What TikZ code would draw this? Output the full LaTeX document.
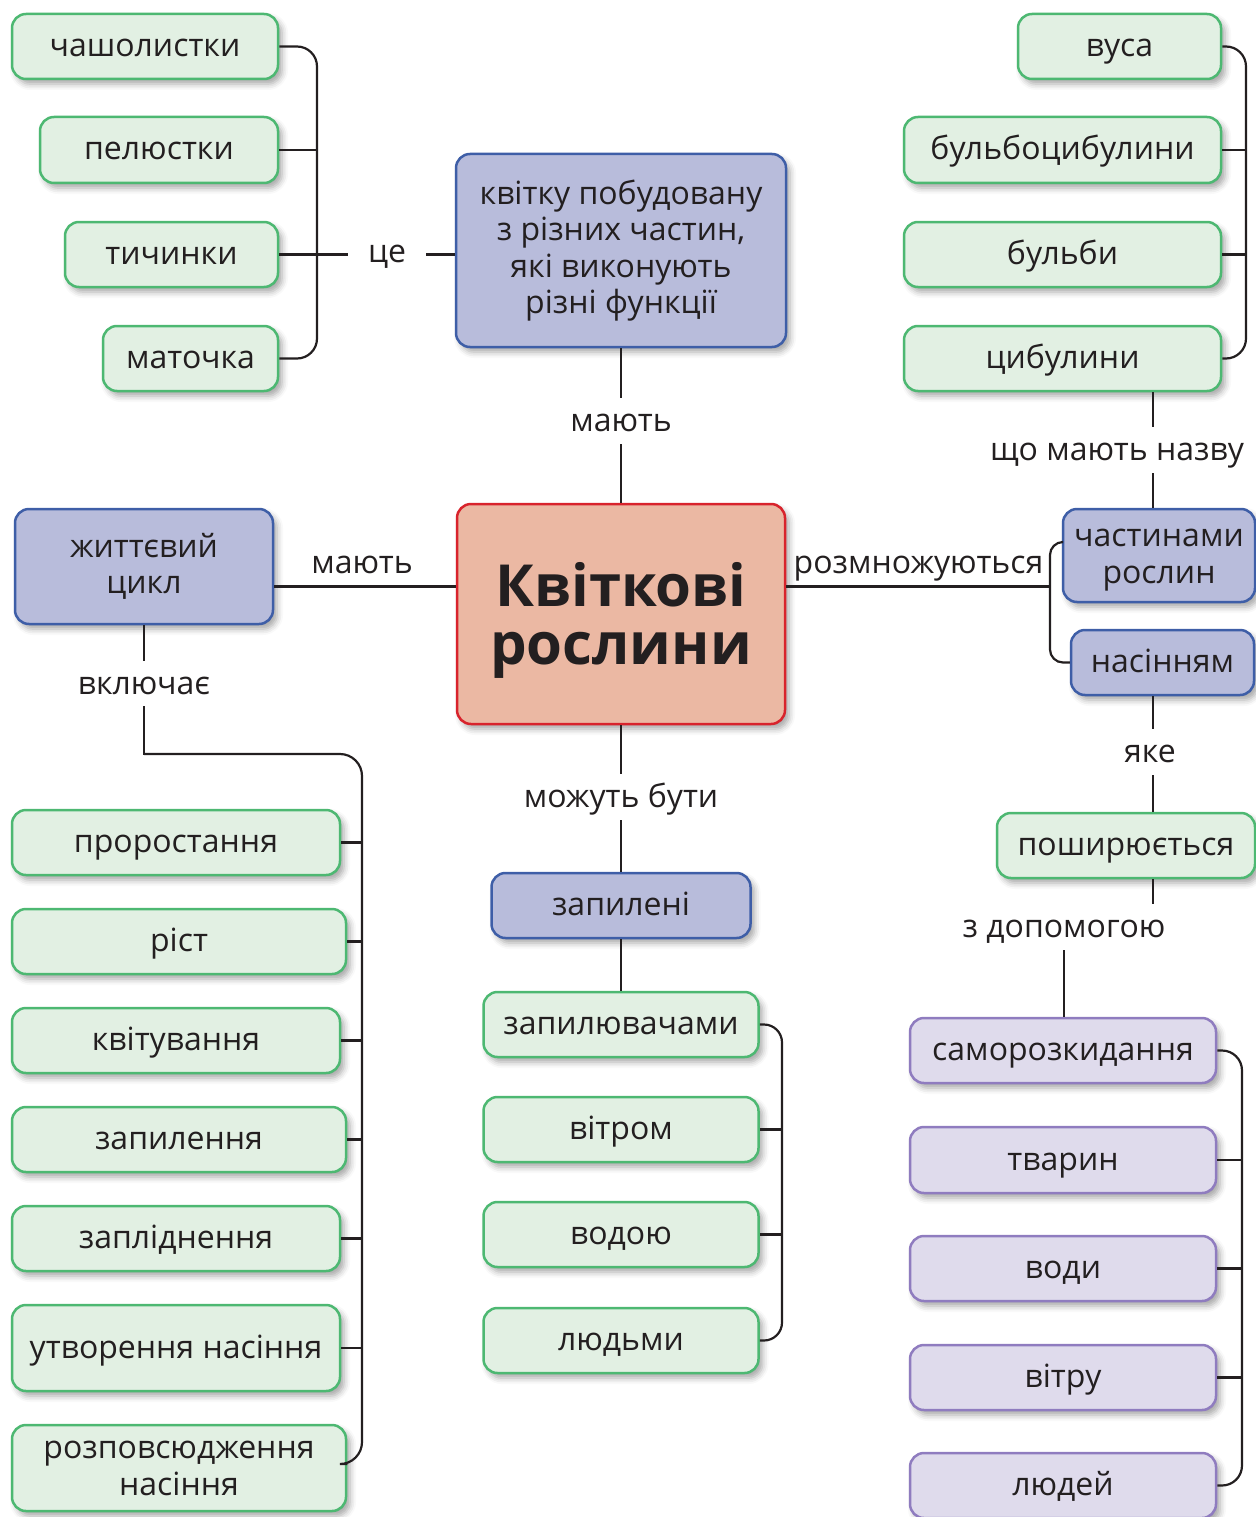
\documentclass[tikz,border=0pt]{standalone}
\usepackage{fontspec}
\setmainfont{Open Sans}
\usetikzlibrary{shadows.blur}
\definecolor{ink}{HTML}{231F20}
\definecolor{gfill}{HTML}{E2F0E3}
\definecolor{gdraw}{HTML}{4DB872}
\definecolor{bfill}{HTML}{B8BCDB}
\definecolor{bdraw}{HTML}{3E5EA7}
\definecolor{pfill}{HTML}{DFDBEC}
\definecolor{pdraw}{HTML}{8F7CBF}
\definecolor{cfill}{HTML}{EBB8A3}
\definecolor{cdraw}{HTML}{D8232C}
\newcommand\zs{\rule[-8pt]{0pt}{36pt}}
\newcommand\zm{\rule[-3pt]{0pt}{24pt}}
\newcommand\zc{\rule[-1pt]{0pt}{28pt}}
\newcommand\zb{\rule[-2pt]{0pt}{58pt}}
\newcommand\fs{\fontsize{32}{36.5}\selectfont}
\begin{document}
\begin{tikzpicture}[x=1pt,y=-1pt,
  box/.style={rounded corners=14pt, line width=2.5pt, inner sep=0pt, align=center,
    font=\fs, text=ink,
    blur shadow={shadow xshift=4pt,shadow yshift=-5pt,shadow blur radius=6pt,shadow opacity=35}},
  gbox/.style={box, fill=gfill, draw=gdraw},
  bbox/.style={box, fill=bfill, draw=bdraw},
  pbox/.style={box, fill=pfill, draw=pdraw},
  cbox/.style={box, fill=cfill, draw=cdraw, font=\fontsize{58}{58}\selectfont\bfseries},
  sz/.style 2 args={minimum width=#1pt, minimum height=#2pt},
  lbl/.style={font=\fs, text=ink, anchor=base, text height=20pt, text depth=0pt, inner ysep=13pt, inner xsep=20pt},
  txt/.style={font=\fs, text=ink, anchor=base, inner sep=0pt},
  ln/.style={draw=ink, line width=2.2pt}]
\useasboundingbox (0,0) rectangle (1255,1517);

% top-left
\node[gbox, sz={266}{65}] (chash) at (145,46.5) {\zs чашолистки};
\node[gbox, sz={238}{66}] (pel) at (159,150) {\zs пелюстки};
\node[gbox, sz={213}{65}] (tych) at (171.5,254.5) {\zs тичинки};
\node[gbox, sz={175}{65}] (mat) at (190.5,358.5) {\zs маточка};
\node[lbl] (tse) at (387,262) {це};
\node[bbox, sz={330}{193}] (kvitku) at (621,250.5) {\zm квітку побудовану\\\zm з різних частин,\\\zm які виконують\\\zm різні функції};
\node[lbl] (m1) at (621,431) {мають};
\node[cbox, sz={328}{220}] (central) at (621,614) {\zb Квіткові\\\zb рослини};

% left
\node[bbox, sz={258}{115}] (life) at (144,566.5) {\zm життєвий\\\zm цикл};
\node[txt] (m2) at (362,573) {мають};
\node[lbl] (vkl) at (144,694) {включає};
\node[gbox, sz={328}{65}] (pror) at (176,842.5) {\zs проростання};
\node[gbox, sz={334}{65}] (rist) at (179,941.5) {\zs ріст};
\node[gbox, sz={328}{65}] (kvit) at (176,1040.5) {\zs квітування};
\node[gbox, sz={334}{65}] (zapylen) at (179,1139.5) {\zs запилення};
\node[gbox, sz={328}{65}] (zapl) at (176,1238.5) {\zs запліднення};
\node[gbox, sz={328}{86}] (utv) at (176,1348) {\zs утворення насіння};
\node[gbox, sz={334}{86}] (rozp) at (179,1468) {\zm розповсюдження\\\zm насіння};

% centre bottom
\node[lbl] (mozh) at (621,807) {можуть бути};
\node[bbox, sz={259}{65}] (zapyleni) at (621,905.5) {\zs запилені};
\node[gbox, sz={275}{65}] (zapyl) at (621,1024.5) {\zs запилювачами};
\node[gbox, sz={275}{65}] (vitrom) at (621,1129.5) {\zs вітром};
\node[gbox, sz={275}{65}] (vodoyu) at (621,1234.5) {\zs водою};
\node[gbox, sz={275}{65}] (lyudmy) at (621,1340.5) {\zs людьми};

% right
\node[gbox, sz={203}{65}] (vusa) at (1119.5,46.5) {\zs вуса};
\node[gbox, sz={317}{66}] (bcb) at (1062.5,150) {\zs бульбоцибулини};
\node[gbox, sz={317}{65}] (bulb) at (1062.5,254.5) {\zs бульби};
\node[gbox, sz={317}{65}] (tsyb) at (1062.5,358.5) {\zs цибулини};
\node[lbl] (shcho) at (1117,460) {що мають назву};
\node[bbox, sz={192}{93}] (chast) at (1159,555.5) {\zc частинами\\\zc рослин};
\node[bbox, sz={183}{65}] (nas) at (1162.5,662.5) {\zs насінням};
\node[txt] (rozm) at (918.5,573) {розмножуються};
\node[lbl] (yake) at (1150,762) {яке};
\node[gbox, sz={258}{65}] (posh) at (1126,845.5) {\zs поширюється};
\node[lbl] (zdop) at (1064,937) {з допомогою};
\node[pbox, sz={306}{65}] (samo) at (1063,1050.5) {\zs саморозкидання};
\node[pbox, sz={306}{66}] (tvar) at (1063,1160) {\zs тварин};
\node[pbox, sz={306}{65}] (vody) at (1063,1268.5) {\zs води};
\node[pbox, sz={306}{65}] (vitru) at (1063,1377.5) {\zs вітру};
\node[pbox, sz={306}{65}] (lyudei) at (1063,1485.5) {\zs людей};

% coordinates
\coordinate (bTL) at (317,0);
\coordinate (bTR) at (1246,0);
\coordinate (cR) at (1153,0);
\coordinate (hy) at (0,586.5);
\coordinate (bR) at (1050,0);
\coordinate (y542) at (0,542);
\coordinate (bL1) at (362,754);
\coordinate (bL2) at (362,1464);
\coordinate (bC) at (782,0);
\coordinate (bBR) at (1242,0);

% connectors top-left
\draw[ln, rounded corners=20pt] (chash.east) -| (bTL |- mat.east) -- (mat.east);
\draw[ln] (pel.east) -- (bTL |- pel.east);
\draw[ln] (tych.east) -- (tse.west |- tych.east);
\draw[ln] (tse.east |- tych.east) -- (kvitku.west |- tych.east);

% centre column
\draw[ln] (kvitku.south) -- (m1.north);
\draw[ln] (m1.south) -- (central.north);
\draw[ln] (central.south) -- (mozh.north);
\draw[ln] (mozh.south) -- (zapyleni.north);
\draw[ln] (zapyleni.south) -- (zapyl.north);
\draw[ln, rounded corners=18pt] (zapyl.east) -| (bC |- lyudmy.east) -- (lyudmy.east);
\draw[ln] (vitrom.east) -- (bC |- vitrom.east);
\draw[ln] (vodoyu.east) -- (bC |- vodoyu.east);

% left
\draw[ln] (life.east |- hy) -- (central.west |- hy);
\draw[ln] (life.south) -- (vkl.north);
\draw[ln, line cap=rect] (vkl.south) -- (vkl.south |- bL1);
\draw[ln, rounded corners=22pt] (vkl.south |- bL1) -- (bL1) -- (bL2) -- (rozp.east |- bL2);
\foreach \n in {pror,rist,kvit,zapylen,zapl,utv}
  \draw[ln] (\n.east) -- (bL1 |- \n.east);

% right top
\draw[ln, rounded corners=20pt] (vusa.east) -| (bTR |- tsyb.east) -- (tsyb.east);
\draw[ln] (bcb.east) -- (bTR |- bcb.east);
\draw[ln] (bulb.east) -- (bTR |- bulb.east);
\draw[ln] (cR |- tsyb.south) -- (cR |- shcho.north);
\draw[ln] (cR |- shcho.south) -- (cR |- chast.north);

% right middle
\draw[ln] (central.east |- hy) -- (bR |- hy);
\draw[ln, rounded corners=13pt] (chast.west |- y542) -| (bR |- nas.west) -- (nas.west);
\draw[ln] (cR |- nas.south) -- (cR |- yake.north);
\draw[ln] (cR |- yake.south) -- (cR |- posh.north);
\draw[ln] (cR |- posh.south) -- (cR |- zdop.north);
\draw[ln] (zdop.south) -- (zdop.south |- samo.north);

% right bottom
\draw[ln, rounded corners=20pt] (samo.east) -| (bBR |- lyudei.east) -- (lyudei.east);
\draw[ln] (tvar.east) -- (bBR |- tvar.east);
\draw[ln] (vody.east) -- (bBR |- vody.east);
\draw[ln] (vitru.east) -- (bBR |- vitru.east);
\end{tikzpicture}
\end{document}
